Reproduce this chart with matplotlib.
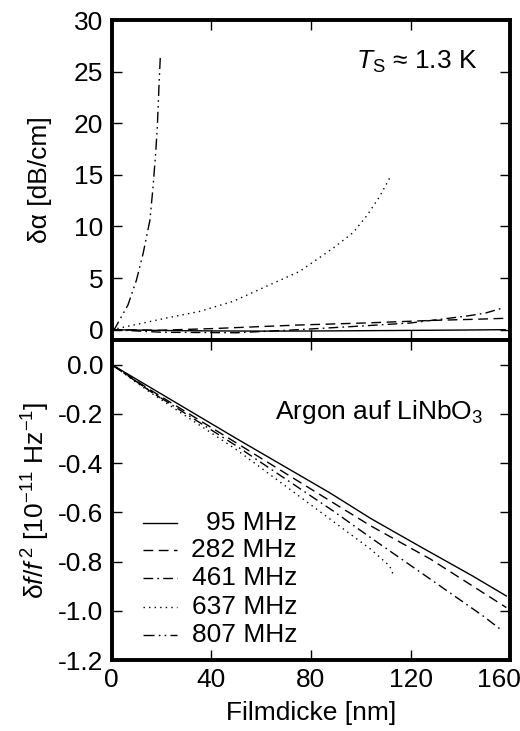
import matplotlib
matplotlib.use("Agg")
import matplotlib.pyplot as plt
import matplotlib.transforms as mtrans

plt.rcParams['font.family'] = ['Liberation Sans', 'DejaVu Sans']
plt.rcParams['mathtext.fontset'] = 'custom'
plt.rcParams['mathtext.rm'] = 'Liberation Sans'
plt.rcParams['mathtext.it'] = 'Liberation Sans:italic'
plt.rcParams['axes.unicode_minus'] = False
plt.rcParams['font.size'] = 19

# Daempfung (oben), Filmdicke in nm
x_95_a = [0, 20, 40, 60, 80, 100, 120, 140, 158]
a_95 = [0, -0.08, -0.12, -0.14, -0.13, -0.1, -0.07, -0.04, 0.0]
x_282_a = [0, 20, 40, 75, 102, 129, 145, 158]
a_282 = [0, -0.05, 0.1, 0.45, 0.65, 0.9, 1.0, 1.1]
x_461_a = [0, 20, 50, 75, 100, 120, 142, 150, 157]
a_461 = [0, -0.25, -0.3, 0.0, 0.35, 0.65, 1.3, 1.6, 2.1]
x_637_a = [0, 3.2, 22, 35.3, 48.7, 62.1, 75.5, 88.9, 96.9, 102.3, 107.6, 112.3]
a_637 = [0, 0.16, 1.13, 1.77, 2.74, 4.2, 5.65, 7.9, 9.4, 11.0, 12.9, 15.0]
x_807_a = [0, 1.2, 6.5, 9.9, 12.6, 15.3, 16.6, 17.7, 18.3, 19.0, 19.5]
a_807 = [0, 0.1, 2.4, 4.8, 7.4, 10.6, 13.9, 17.4, 19.7, 23.9, 26.5]

# Frequenzverschiebung (unten)
x_95_f = [0, 15, 50, 87.6, 104, 124, 145, 158.5]
f_95 = [0, -0.09, -0.30, -0.521, -0.625, -0.74, -0.859, -0.94]
x_282_f = [0, 15, 50, 90, 104, 128, 158.5]
f_282 = [0, -0.10, -0.318, -0.568, -0.655, -0.79, -0.987]
x_461_f = [0, 15, 50, 89, 104, 130, 149, 157]
f_461 = [0, -0.105, -0.33, -0.595, -0.703, -0.886, -1.02, -1.082]
x_637_f = [0, 15, 50, 104, 111.6, 113.3]
f_637 = [0, -0.11, -0.345, -0.75, -0.818, -0.859]
x_807_f = [0, 10, 19.5]
f_807 = [0, -0.07, -0.135]

labels = ['95 MHz', '282 MHz', '461 MHz', '637 MHz', '807 MHz']
stile = ['-', (0, (7, 4)), (0, (7, 3, 1.2, 3)), (0, (1, 3)), (0, (8, 3, 1.2, 3, 1.2, 3))]

fig = plt.figure(figsize=(5.2, 7.31), dpi=100)
ax1 = fig.add_axes([0.215, 0.5349, 0.766, 0.4377])
ax2 = fig.add_axes([0.215, 0.0971, 0.766, 0.4378])

daten_a = [(x_95_a, a_95), (x_282_a, a_282), (x_461_a, a_461), (x_637_a, a_637), (x_807_a, a_807)]
daten_f = [(x_95_f, f_95), (x_282_f, f_282), (x_461_f, f_461), (x_637_f, f_637), (x_807_f, f_807)]

for (xa, ya), (xf, yf), ls in zip(daten_a, daten_f, stile):
    ax1.plot(xa, ya, color='k', lw=1.0, ls=ls)
    ax2.plot(xf, yf, color='k', lw=1.0, ls=ls)

for ax in (ax1, ax2):
    ax.set_xlim(0, 160)
    ax.set_xticks([0, 40, 80, 120, 160])
    ax.tick_params(direction='in', top=True, right=True, length=7, width=1, pad=6)
    for s in ax.spines.values():
        s.set_linewidth(2.8)

ax1.set_ylim(-1, 30)
ax1.set_yticks([0, 5, 10, 15, 20, 25, 30])
ax1.tick_params(labelbottom=False)
ax1.set_ylabel('δα [dB/cm]')
ax1.yaxis.set_label_coords(-0.15, 0.5)

ax2.set_ylim(-1.2, 0.1)
ax2.set_yticks([-1.2, -1.0, -0.8, -0.6, -0.4, -0.2, 0.0])
ax2.set_yticklabels(['-1.2', '-1.0', '-0.8', '-0.6', '-0.4', '-0.2', '0.0'])
ax2.set_ylabel(r'δ$\mathit{f}$/$\mathit{f}^{\,2}$ [10$^{-11}$ Hz$^{-1}$]')
ax2.yaxis.set_label_coords(-0.15, 0.5)
ax2.set_xlabel('Filmdicke [nm]', labelpad=6)

# letzte Beschriftung "160" nach links schieben, sonst abgeschnitten
lab160 = ax2.get_xticklabels()[-1]
lab160.set_ha('right')
lab160.set_transform(lab160.get_transform() + mtrans.ScaledTranslation(8 / 72, 0, fig.dpi_scale_trans))

ax1.text(0.917, 0.869, r'$\mathit{T}_{\mathrm{S}}$' + ' ≈ 1.3 K', transform=ax1.transAxes,
         ha='right', va='center')
ax2.text(0.932, 0.775, r'Argon auf LiNbO$_3$', transform=ax2.transAxes,
         ha='right', va='center')

# Legende von Hand, Text rechtsbuendig
zeilen = [0.428, 0.344, 0.256, 0.166, 0.078]
for yy, ls, lab in zip(zeilen, stile, labels):
    ax2.plot([0.078, 0.163], [yy, yy], transform=ax2.transAxes, color='k', lw=1.0, ls=ls)
    ax2.text(0.465, yy, lab, transform=ax2.transAxes, ha='right', va='center')

plt.savefig('out.png', dpi=100)
